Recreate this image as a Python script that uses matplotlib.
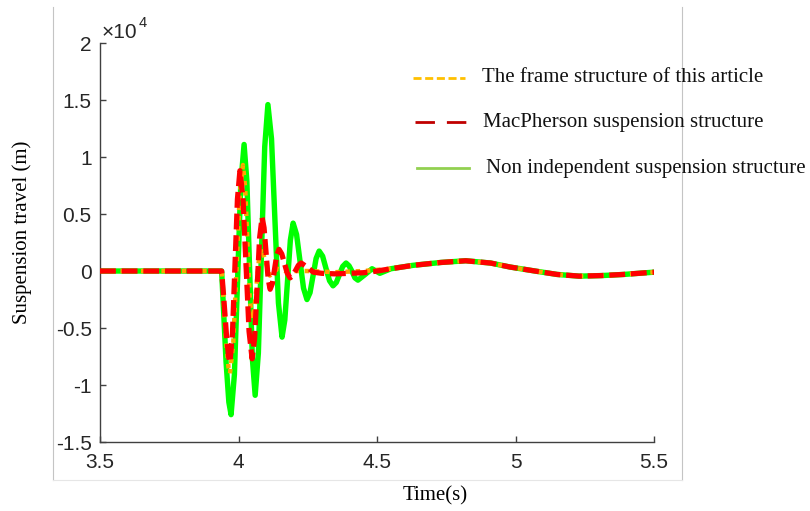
import matplotlib.pyplot as plt
from matplotlib.lines import Line2D
from matplotlib.ticker import FuncFormatter

# suspension travel in units of 1e4 m, time in s
flat_t = [3.5, 3.939]
flat_v = [0.0, 0.0]

frame_t = [3.947, 3.956, 3.964, 3.969, 3.981, 3.9925, 4.004, 4.016, 4.024, 4.032,
           4.040, 4.048, 4.057, 4.0655, 4.074, 4.083, 4.098, 4.113, 4.14, 4.17,
           4.25, 4.35, 4.45, 4.50]
frame_v = [-0.3, -0.65, -0.85, -0.9, -0.63, 0.015, 0.66, 0.93, 0.73, 0.255,
           -0.22, -0.42, -0.33, -0.11, 0.11, 0.2, 0.08, -0.04, 0.02, 0.0,
           0.0, -0.01, 0.0, 0.01]

macpherson_t = [3.947, 3.956, 3.964, 3.969, 3.978, 3.987, 3.996, 4.005, 4.016, 4.027,
                4.038, 4.049, 4.058, 4.067, 4.076, 4.085, 4.092, 4.0995, 4.107, 4.114,
                4.122, 4.130, 4.138, 4.146, 4.156, 4.166, 4.176, 4.186, 4.196, 4.206,
                4.216, 4.226, 4.25, 4.27, 4.30, 4.35, 4.40, 4.45, 4.50]
macpherson_v = [-0.25, -0.55, -0.75, -0.8, -0.55, 0.04, 0.63, 0.88, 0.64, 0.055,
                -0.53, -0.77, -0.59, -0.15, 0.29, 0.47, 0.38, 0.155, -0.07, -0.16,
                -0.11, 0.015, 0.14, 0.19, 0.15, 0.065, -0.02, -0.06, -0.04, 0.005,
                0.05, 0.07, 0.03, -0.01, -0.02, -0.025, -0.02, -0.015, 0.0]

non_indep_t = [3.945, 3.955, 3.965, 3.973, 3.985, 3.9965, 4.008, 4.020, 4.030, 4.040,
               4.050, 4.060, 4.0715, 4.083, 4.0945, 4.106, 4.119, 4.1315, 4.144, 4.157,
               4.167, 4.177, 4.187, 4.197, 4.2095, 4.222, 4.2345, 4.247, 4.258, 4.269,
               4.280, 4.291, 4.3035, 4.316, 4.3285, 4.341, 4.353, 4.3645, 4.376, 4.388,
               4.399, 4.41, 4.42, 4.431, 4.457, 4.482, 4.51]
non_indep_v = [-0.3, -0.8, -1.15, -1.26, -0.91, -0.075, 0.76, 1.11, 0.79, 0.01,
               -0.77, -1.09, -0.72, 0.185, 1.09, 1.46, 1.16, 0.44, -0.28, -0.58,
               -0.43, -0.08, 0.27, 0.42, 0.32, 0.085, -0.15, -0.25, -0.19, -0.04,
               0.11, 0.175, 0.13, 0.02, -0.085, -0.13, -0.10, -0.03, 0.04, 0.07,
               0.045, -0.005, -0.06, -0.08, -0.03, 0.02, -0.02]

# slow part shared by all three structures
tail_t = [4.55, 4.63, 4.73, 4.82, 4.91, 4.98, 5.07, 5.15, 5.23, 5.31, 5.39, 5.5]
tail_v = [0.02, 0.05, 0.075, 0.09, 0.07, 0.035, 0.0, -0.03, -0.045, -0.04, -0.03, -0.01]

labels = ["The frame structure of this article",
          "MacPherson suspension structure",
          "Non independent suspension structure"]
x_ticks = [3.5, 4, 4.5, 5, 5.5]
y_ticks = [-1.5, -1, -0.5, 0, 0.5, 1, 1.5, 2]

SERIF = "Liberation Serif"
SANS = "Liberation Sans"
H = 511.0
W = 810.0

fig = plt.figure(figsize=(8.1, 5.11), dpi=100)
ax = fig.add_axes([0.1235, 0.135, 0.684, 0.7808])

ax.plot(flat_t + non_indep_t + tail_t, flat_v + non_indep_v + tail_v,
        color="#00ff00", lw=3.9, solid_joinstyle="round", solid_capstyle="round", zorder=2)
ax.plot(flat_t + frame_t + tail_t, flat_v + frame_v + tail_v,
        color="#ffa500", lw=3.2, ls=(0, (1, 1.3)), zorder=3)
ax.plot(flat_t + macpherson_t + tail_t, flat_v + macpherson_v + tail_v,
        color="#ff0000", lw=3.8, ls=(0, (3.0, 1.1)), zorder=4)

ax.set_xlim(3.5, 5.5)
ax.set_ylim(-1.5, 2)
ax.set_xticks(x_ticks)
ax.set_yticks(y_ticks)
fmt = FuncFormatter(lambda v, pos: f"{v:g}")
ax.xaxis.set_major_formatter(fmt)
ax.yaxis.set_major_formatter(fmt)

for s in ["top", "right"]:
    ax.spines[s].set_visible(False)
for s in ["left", "bottom"]:
    ax.spines[s].set_color("#404040")
    ax.spines[s].set_linewidth(1.0)
ax.tick_params(direction="in", length=4.5, width=1.0, color="#404040",
               labelcolor="#262626", labelsize=15)
ax.tick_params(axis="x", pad=8)
ax.tick_params(axis="y", pad=6)
for lab in ax.get_xticklabels() + ax.get_yticklabels():
    lab.set_fontfamily(SANS)

# exponent label, MATLAB style
fig.text(102 / W, 1 - 33 / H, "\u00d710", fontsize=15, family=SANS,
         color="#262626", ha="left", va="center")
fig.text(139 / W, 1 - 23 / H, "4", fontsize=10.5, family=SANS,
         color="#262626", ha="left", va="center")

fig.text(0.537, 0.029, "Time(s)", family=SERIF, fontsize=15, ha="center", va="center")
fig.text(0.027, 0.546, "Suspension travel (m)", family=SERIF, fontsize=15,
         rotation=90, ha="center", va="center")

# outer frame of the picture (left, right, bottom)
side = "#c4c4c4"
fig.add_artist(Line2D([53 / W, 53 / W], [1 - 7 / H, 1 - 480 / H], color=side, lw=0.8))
fig.add_artist(Line2D([682 / W, 682 / W], [1 - 7 / H, 1 - 480 / H], color=side, lw=0.8))
fig.add_artist(Line2D([53 / W, 682 / W], [1 - 480 / H, 1 - 480 / H], color="#e6e6e6", lw=0.8))

# hand-drawn legend
leg_colors = ["#ffc000", "#c00000", "#92d050"]
leg_styles = [(0, (2.9, 1.3)), (0, (7.0, 4.3)), "-"]
leg_rows = [78, 122, 168]
leg_x0 = [413, 415, 417]
leg_text_x = [482, 483, 486]
for lab, c, st, yy, x0, tx in zip(labels, leg_colors, leg_styles, leg_rows, leg_x0, leg_text_x):
    fig.add_artist(Line2D([x0 / W, (x0 + 52) / W], [1 - yy / H, 1 - yy / H],
                          color=c, lw=2.0, ls=st))
    fig.text(tx / W, 1 - yy / H, lab, family=SERIF, fontsize=15,
             ha="left", va="center", color="#111111", zorder=5)

fig.savefig("out.png", dpi=100)
